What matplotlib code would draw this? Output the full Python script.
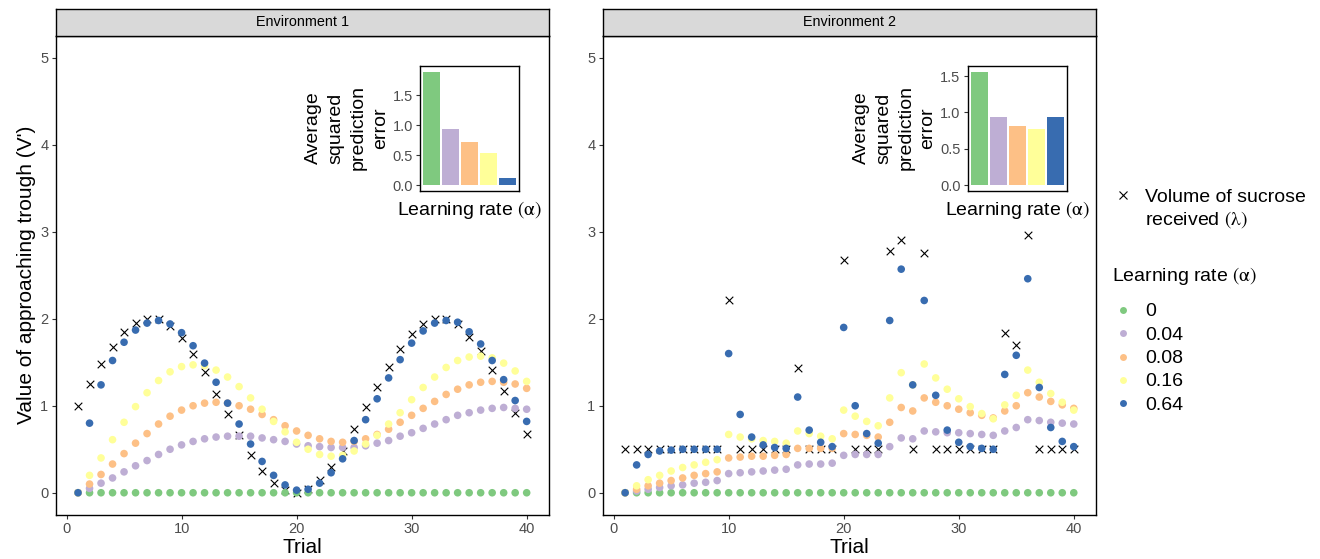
import numpy as np
import matplotlib
matplotlib.use("Agg")
import matplotlib.pyplot as plt
from matplotlib.lines import Line2D

plt.rcParams['font.family'] = ['Liberation Sans', 'DejaVu Sans']
plt.rcParams['mathtext.fontset'] = 'stix'

# ---------------- data ----------------
trials = [1, 2, 3, 4, 5, 6, 7, 8, 9, 10, 11, 12, 13, 14, 15, 16, 17, 18, 19, 20,
          21, 22, 23, 24, 25, 26, 27, 28, 29, 30, 31, 32, 33, 34, 35, 36, 37, 38, 39, 40]
alpha_labels = ['0', '0.04', '0.08', '0.16', '0.64']
panel_titles = ['Environment 1', 'Environment 2']

# Environment 1: sucrose received (lambda) and learned values V for each learning rate
lam_env1 = [1.00,1.25,1.48,1.68,1.85,1.95,2.00,2.00,1.92,1.78,1.60,1.39,1.14,0.90,0.66,0.43,0.25,0.11,0.03,0.00,
            0.04,0.15,0.30,0.48,0.73,0.98,1.21,1.45,1.65,1.82,1.94,2.00,2.00,1.94,1.79,1.63,1.41,1.17,0.92,0.68]
v1_a000 = [0.00,0.00,0.00,0.00,0.00,0.00,0.00,0.00,0.00,0.00,0.00,0.00,0.00,0.00,0.00,0.00,0.00,0.00,0.00,0.00,
           0.00,0.00,0.00,0.00,0.00,0.00,0.00,0.00,0.00,0.00,0.00,0.00,0.00,0.00,0.00,0.00,0.00,0.00,0.00,0.00]
v1_a004 = [0.00,0.05,0.11,0.17,0.24,0.31,0.37,0.44,0.50,0.55,0.59,0.62,0.64,0.65,0.65,0.65,0.63,0.61,0.59,0.56,
           0.54,0.53,0.52,0.52,0.52,0.54,0.57,0.60,0.65,0.69,0.74,0.79,0.84,0.89,0.92,0.95,0.97,0.98,0.97,0.96]
v1_a008 = [0.00,0.10,0.21,0.33,0.45,0.57,0.68,0.79,0.88,0.95,1.00,1.03,1.04,1.03,1.00,0.96,0.90,0.84,0.77,0.71,
           0.66,0.62,0.59,0.58,0.59,0.62,0.67,0.73,0.81,0.89,0.97,1.05,1.13,1.19,1.24,1.27,1.28,1.27,1.25,1.20]
v1_a016 = [0.00,0.20,0.40,0.61,0.81,0.99,1.15,1.29,1.39,1.45,1.47,1.46,1.41,1.33,1.22,1.09,0.96,0.82,0.70,0.58,
           0.50,0.44,0.42,0.43,0.48,0.56,0.66,0.79,0.92,1.07,1.21,1.33,1.44,1.52,1.56,1.57,1.55,1.49,1.40,1.28]
v1_a064 = [0.00,0.80,1.24,1.52,1.73,1.87,1.95,1.98,1.94,1.84,1.69,1.49,1.27,1.03,0.79,0.56,0.36,0.20,0.09,0.03,
           0.04,0.11,0.23,0.39,0.60,0.84,1.08,1.32,1.53,1.72,1.86,1.95,1.98,1.96,1.85,1.71,1.52,1.30,1.06,0.82]

# Environment 2
lam_env2 = [0.50,0.50,0.50,0.50,0.50,0.50,0.50,0.50,0.50,2.22,0.50,0.50,0.50,0.50,0.50,1.43,0.50,0.50,0.50,2.67,
            0.50,0.50,0.50,2.78,2.90,0.50,2.76,0.50,0.50,0.50,0.50,0.50,0.50,1.84,1.70,2.96,0.50,0.50,0.50,0.50]
v2_a000 = [0.00,0.00,0.00,0.00,0.00,0.00,0.00,0.00,0.00,0.00,0.00,0.00,0.00,0.00,0.00,0.00,0.00,0.00,0.00,0.00,
           0.00,0.00,0.00,0.00,0.00,0.00,0.00,0.00,0.00,0.00,0.00,0.00,0.00,0.00,0.00,0.00,0.00,0.00,0.00,0.00]
v2_a004 = [0.00,0.02,0.04,0.06,0.08,0.09,0.11,0.12,0.14,0.22,0.23,0.24,0.25,0.26,0.27,0.32,0.33,0.33,0.34,0.43,
           0.44,0.44,0.44,0.53,0.63,0.62,0.71,0.70,0.69,0.69,0.68,0.67,0.66,0.71,0.75,0.84,0.83,0.81,0.80,0.79]
v2_a008 = [0.00,0.04,0.08,0.11,0.14,0.17,0.20,0.22,0.24,0.40,0.41,0.42,0.42,0.43,0.44,0.51,0.51,0.51,0.51,0.68,
           0.67,0.66,0.64,0.81,0.98,0.94,1.09,1.04,1.00,0.96,0.92,0.89,0.86,0.94,1.00,1.15,1.10,1.05,1.01,0.97]
v2_a016 = [0.00,0.08,0.15,0.20,0.25,0.29,0.32,0.35,0.38,0.67,0.64,0.62,0.60,0.59,0.57,0.71,0.68,0.65,0.62,0.95,
           0.88,0.82,0.77,1.09,1.38,1.24,1.48,1.32,1.19,1.08,0.99,0.91,0.85,1.01,1.12,1.41,1.27,1.14,1.04,0.95]
v2_a064 = [0.00,0.32,0.44,0.48,0.49,0.50,0.50,0.50,0.50,1.60,0.90,0.64,0.55,0.52,0.51,1.10,0.72,0.58,0.53,1.90,
           1.00,0.68,0.57,1.98,2.57,1.24,2.21,1.12,0.72,0.58,0.53,0.51,0.50,1.36,1.58,2.46,1.21,0.75,0.59,0.53]

# Inset: average squared prediction error per learning rate
err_env1 = [1.89, 0.93, 0.72, 0.54, 0.13]
err_env2 = [1.56, 0.94, 0.81, 0.77, 0.94]

# ---------------- style ----------------
W, H = 1320, 559
colors = ['#7FC97F', '#BEAED4', '#FDC086', '#FFFF99', '#386CB0']
TICK = dict(length=3.2, width=0.8, color='#333333', labelcolor='#4D4D4D', labelsize=10.5, pad=2)

fig = plt.figure(figsize=(W / 100, H / 100), dpi=100)


def panel(left, lam, series, title, bars, inset_left):
    ax = fig.add_axes([left / W, (H - 514.5) / H, 493.5 / W, 478.5 / H])
    ax.scatter(trials, lam, marker='x', s=30, c='black', linewidths=0.8, zorder=2)
    for c, v in zip(colors, series):
        ax.scatter(trials, v, s=30, c=c, edgecolors='none', zorder=3)
    ax.set_xlim(-0.95, 41.95)
    ax.set_ylim(-0.25, 5.25)
    ax.set_xticks([0, 10, 20, 30, 40])
    ax.set_yticks([0, 1, 2, 3, 4, 5])
    ax.tick_params(**TICK)
    for s in ax.spines.values():
        s.set_linewidth(1.0)
    ax.set_xlabel('Trial', fontsize=15, labelpad=1.5)

    # facet strip
    sax = fig.add_axes([left / W, (H - 35.7) / H, 493.5 / W, 26.4 / H])
    sax.set_facecolor('#D9D9D9')
    sax.set_xticks([])
    sax.set_yticks([])
    for s in sax.spines.values():
        s.set_linewidth(1.0)
    sax.text(0.5, 0.5, title, ha='center', va='center', fontsize=10.4, transform=sax.transAxes)

    # inset bar chart
    iax = fig.add_axes([inset_left / W, (H - 191) / H, 99.3 / W, 125 / H])
    iax.bar(np.arange(1, len(bars) + 1), bars, width=0.9, color=colors)
    iax.set_xlim(0.4, 5.6)
    top = max(bars)
    iax.set_ylim(-0.05 * top, 1.05 * top)
    iax.set_xticks([])
    iax.set_yticks([0, 0.5, 1.0, 1.5])
    iax.set_yticklabels(['0.0', '0.5', '1.0', '1.5'])
    iax.tick_params(**TICK)
    for s in iax.spines.values():
        s.set_linewidth(1.0)
    cx = inset_left + 99.3 / 2
    fig.text((inset_left - 73) / W, (H - 128) / H, 'Average\nsquared\nprediction\nerror', rotation=90,
             ha='center', va='center', multialignment='center', fontsize=14, linespacing=1.4)
    fig.text(cx / W, (H - 210) / H, r'Learning rate $(\mathrm{\alpha})$', ha='center', va='center', fontsize=14)
    return ax


ax1 = panel(55.6, lam_env1, [v1_a000, v1_a004, v1_a008, v1_a016, v1_a064], panel_titles[0], err_env1, 420)
ax1.set_ylabel("Value of approaching trough (V')", fontsize=15, labelpad=3)
ax2 = panel(602.7, lam_env2, [v2_a000, v2_a004, v2_a008, v2_a016, v2_a064], panel_titles[1], err_env2, 967.7)

# ---------------- legend ----------------
lax = fig.add_axes([0, 0, 1, 1], zorder=-1)
lax.set_xlim(0, W)
lax.set_ylim(H, 0)
lax.axis('off')
lax.add_line(Line2D([1122.7], [195], marker='x', color='black', markersize=5.5,
                    markeredgewidth=0.8, linestyle='none'))
lax.text(1145, 201.7, 'Volume of sucrose', fontsize=14, va='baseline')
lax.text(1145, 224.3, r'received $(\mathrm{\lambda})$', fontsize=14, va='baseline')
lax.text(1111.7, 281, r'Learning rate $(\mathrm{\alpha})$', fontsize=14, va='baseline')
for i, (c, lab) in enumerate(zip(colors, alpha_labels)):
    y = 310 + i * 23.3
    lax.add_line(Line2D([1122.7], [y], marker='o', color=c, markersize=5, markeredgewidth=0, linestyle='none'))
    lax.text(1145, y + 6.5, lab, fontsize=14, va='baseline')

fig.savefig('out.png', dpi=100)
